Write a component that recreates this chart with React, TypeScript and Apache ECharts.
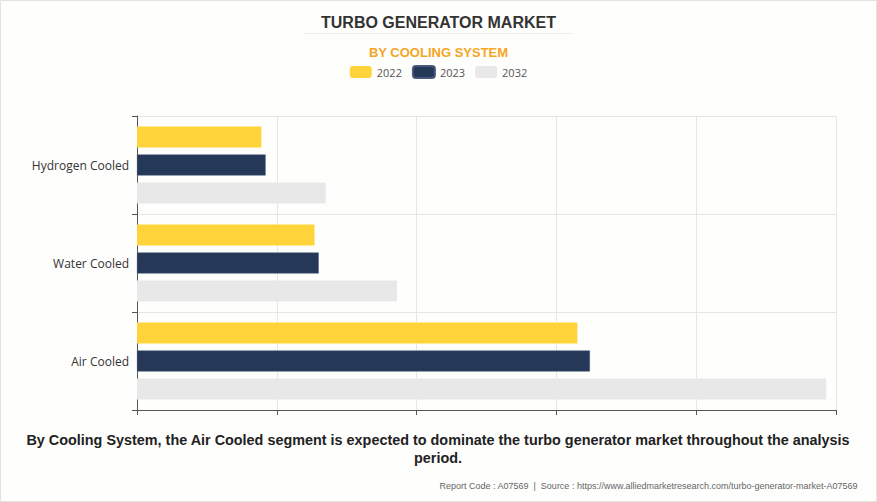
import React, { useEffect, useRef } from "react";
import * as echarts from "echarts";

const categories = ["Air Cooled", "Water Cooled", "Hydrogen Cooled"];
const seriesNames = ["2022", "2023", "2032"];
const values2022 = [3.15, 1.27, 0.89];
const values2023 = [3.24, 1.3, 0.92];
const values2032 = [4.93, 1.86, 1.35];
const colors = ["#FFD43B", "#253858", "#E8E8E8"];

export default function App() {
  const ref = useRef<HTMLDivElement>(null);
  useEffect(() => {
    document.body.style.margin = "0";
    const chart = echarts.init(ref.current!, null, { renderer: "svg" });
    const data = [values2022, values2023, values2032];
    chart.setOption({
      animation: false,
      backgroundColor: "#fefefd",
      title: [
        {
          text: "TURBO GENERATOR MARKET",
          left: "center",
          top: 9,
          textStyle: { fontFamily: "Liberation Sans", fontSize: 16, fontWeight: "bold", color: "#333" },
        },
        {
          text: "BY COOLING SYSTEM",
          left: "center",
          top: 41,
          textStyle: { fontFamily: "Liberation Sans", fontSize: 13, fontWeight: "bold", color: "#F5A623" },
        },
        {
          text: "Report Code : A07569  |  Source : https://www.alliedmarketresearch.com/turbo-generator-market-A07569",
          right: 14,
          top: 476,
          textStyle: { fontFamily: "Liberation Sans", fontSize: 9, fontWeight: "normal", color: "#666" },
        },
      ],
      graphic: [
        {
          type: "line",
          shape: { x1: 303, y1: 33.5, x2: 573, y2: 33.5 },
          style: { stroke: "#ececec", lineWidth: 1 },
        },
        {
          type: "rect",
          shape: { x: 0.5, y: 0.5, width: 876, height: 501 },
          style: { fill: "none", stroke: "#e2e2e2", lineWidth: 1 },
        },
        {
          type: "text",
          x: 438,
          y: 431,
          style: {
            text: "By Cooling System, the Air Cooled segment is expected to dominate the turbo generator market throughout the analysis\nperiod.",
            fontFamily: "Liberation Sans",
            fontSize: 14.4,
            fontWeight: "bold",
            fill: "#222",
            lineHeight: 18,
            align: "center",
            verticalAlign: "top",
          },
        },
      ],
      legend: {
        top: 60,
        left: "center",
        itemWidth: 22,
        itemHeight: 12,
        itemGap: 10,
        icon: "roundRect",
        textStyle: { fontFamily: "Open Sans", fontSize: 11, color: "#555" },
        data: seriesNames,
      },
      grid: { left: 137, right: 41, top: 116, bottom: 92 },
      xAxis: {
        type: "value",
        min: 0,
        max: 5,
        interval: 1,
        axisLine: { show: true, lineStyle: { color: "#555" } },
        axisTick: { show: true, length: 5, lineStyle: { color: "#555" } },
        axisLabel: { show: false },
        splitLine: { show: true, lineStyle: { color: "#e6e6e6" } },
      },
      yAxis: {
        type: "category",
        data: categories,
        axisLine: { show: true, lineStyle: { color: "#555" } },
        axisTick: { show: true, length: 5, lineStyle: { color: "#555" } },
        axisLabel: { fontFamily: "Open Sans", fontSize: 12, color: "#333", margin: 8 },
        splitLine: { show: true, lineStyle: { color: "#e6e6e6" } },
      },
      series: seriesNames.map((name, i) => ({
        name,
        type: "bar",
        data: data[i],
        barWidth: 21,
        barGap: "33%",
        itemStyle: {
          color: colors[i],
          borderColor: i === 1 ? "#4a5a78" : undefined,
          borderWidth: i === 1 ? 0.5 : 0,
        },
      })),
    });
    return () => chart.dispose();
  }, []);
  return <div ref={ref} style={{ width: 877, height: 502 }} />;
}
